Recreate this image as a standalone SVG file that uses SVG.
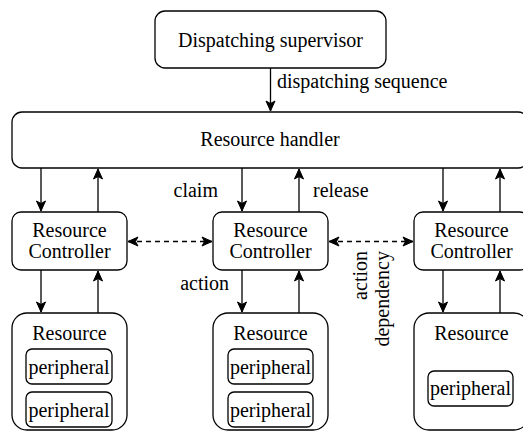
<svg xmlns="http://www.w3.org/2000/svg" width="523" height="432" viewBox="0 0 523 432">
<style>
.box{fill:#fff;stroke:#000;stroke-width:1.3}
.t{font-family:'Liberation Serif','Times New Roman','DejaVu Serif',serif;font-size:20px;fill:#000}
.c{text-anchor:middle}
.e{text-anchor:end}
.ln{stroke:#000;stroke-width:1.3;fill:none}
.d{stroke-dasharray:5 4}
</style>
<defs>
<marker id="ah" markerUnits="userSpaceOnUse" markerWidth="12" markerHeight="12" viewBox="0 0 12 12" refX="11" refY="6" orient="auto-start-reverse">
<path d="M1,1.5 L11,6 L1,10.5 L3.5,6 Z" fill="#000" stroke="#000" stroke-width="1"/>
</marker>
</defs>
<g id="supervisor">
<rect class="box" x="155" y="11" width="231" height="57" rx="10"/>
<text class="t c" x="270.5" y="46.5" font-family="Liberation Serif, serif">Dispatching supervisor</text>
</g>
<g id="handler">
<rect class="box" x="12" y="112" width="516" height="56" rx="10"/>
<text class="t c" x="270" y="146">Resource handler</text>
</g>
<g id="ctrl1">
<rect class="box" x="12" y="212" width="115" height="58" rx="9"/>
<text class="t c" x="69.5" y="237">Resource</text>
<text class="t c" x="69.5" y="258">Controller</text>
</g>
<g id="ctrl2">
<rect class="box" x="213" y="212" width="115" height="58" rx="9"/>
<text class="t c" x="270.5" y="237">Resource</text>
<text class="t c" x="270.5" y="258">Controller</text>
</g>
<g id="ctrl3">
<rect class="box" x="414" y="212" width="115" height="58" rx="9"/>
<text class="t c" x="471.5" y="237">Resource</text>
<text class="t c" x="471.5" y="258">Controller</text>
</g>
<g id="res1">
<rect class="box" x="12" y="313" width="115" height="117" rx="15"/>
<text class="t c" x="69.5" y="340">Resource</text>
<rect class="box" x="26" y="349" width="86" height="35" rx="6"/>
<text class="t c" x="69" y="374">peripheral</text>
<rect class="box" x="26" y="392" width="86" height="35" rx="6"/>
<text class="t c" x="69" y="417">peripheral</text>
</g>
<g id="res2">
<rect class="box" x="213" y="313" width="115" height="117" rx="15"/>
<text class="t c" x="270.5" y="340">Resource</text>
<rect class="box" x="228" y="349" width="85" height="35" rx="6"/>
<text class="t c" x="270.5" y="374">peripheral</text>
<rect class="box" x="228" y="392" width="85" height="35" rx="6"/>
<text class="t c" x="270.5" y="417">peripheral</text>
</g>
<g id="res3">
<rect class="box" x="414" y="313" width="115" height="117" rx="15"/>
<text class="t c" x="471.5" y="340">Resource</text>
<rect class="box" x="428" y="371" width="85" height="35" rx="6"/>
<text class="t c" x="470.5" y="395">peripheral</text>
</g>
<g id="connectors">
<line class="ln" x1="270.5" y1="68" x2="270.5" y2="111" marker-end="url(#ah)"/>
<text class="t" x="277" y="88">dispatching sequence</text>
<line class="ln" x1="41" y1="168" x2="41" y2="211" marker-end="url(#ah)"/>
<line class="ln" x1="98" y1="212" x2="98" y2="169" marker-end="url(#ah)"/>
<line class="ln" x1="242" y1="168" x2="242" y2="211" marker-end="url(#ah)"/>
<line class="ln" x1="299" y1="212" x2="299" y2="169" marker-end="url(#ah)"/>
<line class="ln" x1="443" y1="168" x2="443" y2="211" marker-end="url(#ah)"/>
<line class="ln" x1="500" y1="212" x2="500" y2="169" marker-end="url(#ah)"/>
<text class="t e" x="218" y="197">claim</text>
<text class="t" x="313" y="197">release</text>
<line class="ln d" x1="128" y1="241.5" x2="212" y2="241.5" marker-start="url(#ah)" marker-end="url(#ah)"/>
<line class="ln d" x1="329" y1="241.5" x2="413" y2="241.5" marker-start="url(#ah)" marker-end="url(#ah)"/>
<text class="t e" transform="translate(367,251) rotate(-90)" x="0" y="0">action</text>
<text class="t e" transform="translate(389,251) rotate(-90)" x="0" y="0">dependency</text>
<line class="ln" x1="41" y1="270" x2="41" y2="312" marker-end="url(#ah)"/>
<line class="ln" x1="98" y1="313" x2="98" y2="271" marker-end="url(#ah)"/>
<line class="ln" x1="242" y1="270" x2="242" y2="312" marker-end="url(#ah)"/>
<line class="ln" x1="299" y1="313" x2="299" y2="271" marker-end="url(#ah)"/>
<line class="ln" x1="443" y1="270" x2="443" y2="312" marker-end="url(#ah)"/>
<line class="ln" x1="500" y1="313" x2="500" y2="271" marker-end="url(#ah)"/>
<text class="t e" x="229" y="290">action</text>
</g>
</svg>
